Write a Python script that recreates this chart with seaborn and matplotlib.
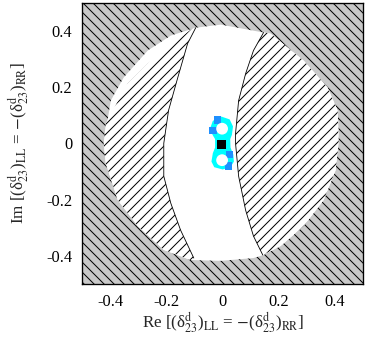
import numpy as np
import matplotlib
matplotlib.use('Agg')
import matplotlib.pyplot as plt
import seaborn as sns

# outer allowed region (white), going round clockwise
outer_x = [-0.096, -0.007, 0.146, 0.171, 0.289, 0.374, 0.41, 0.414, 0.403, 0.36,
           0.289, 0.207, 0.146, 0.11, -0.007, -0.114, -0.21, -0.303, -0.374,
           -0.417, -0.424, -0.399, -0.353, -0.267, -0.185]
outer_y = [0.411, 0.422, 0.394, 0.39, 0.294, 0.199, 0.117, 0.035, -0.096, -0.202,
           -0.294, -0.365, -0.397, -0.408, -0.418, -0.415, -0.379, -0.294, -0.202,
           -0.071, 0.0, 0.152, 0.234, 0.33, 0.383]

# left excluded crescent: inner arc (top to bottom), outer edge, upper edge
left_arc_x = [-0.096, -0.125, -0.16, -0.193, -0.21, -0.21, -0.185, -0.15, -0.103]
left_arc_y = [0.411, 0.355, 0.234, 0.117, 0.0, -0.117, -0.213, -0.309, -0.408]
left_out_x = [-0.114, -0.21, -0.303, -0.374, -0.417, -0.424, -0.417]
left_out_y = [-0.415, -0.379, -0.294, -0.202, -0.071, 0.0, 0.071]
left_top_x = [-0.392, -0.339, -0.267, -0.196, -0.114]
left_top_y = [0.117, 0.213, 0.284, 0.34, 0.404]

# right excluded region: inner arc (top to bottom), then outer edge back up
right_arc_x = [0.146, 0.11, 0.082, 0.057, 0.046, 0.046, 0.057, 0.082, 0.11, 0.143]
right_arc_y = [0.394, 0.33, 0.248, 0.152, 0.035, 0.0, -0.117, -0.238, -0.33, -0.397]
right_out_x = [0.207, 0.289, 0.36, 0.403, 0.414, 0.41, 0.374, 0.289, 0.171]
right_out_y = [-0.365, -0.294, -0.202, -0.096, 0.0, 0.117, 0.199, 0.294, 0.39]

# small allowed blob near the origin
blob_x = [-0.004, 0.025, 0.037, 0.033, 0.027, 0.028, 0.038, 0.04, 0.028, 0.0,
          -0.03, -0.04, -0.035, -0.027, -0.027, -0.036, -0.044, -0.035]
blob_y = [0.095, 0.085, 0.06, 0.03, 0.015, -0.015, -0.04, -0.065, -0.085, -0.093,
          -0.085, -0.065, -0.035, -0.015, 0.015, 0.03, 0.055, 0.08]
blue_x = [-0.034, -0.018, 0.024, 0.02]
blue_y = [0.045, 0.083, -0.04, -0.08]
hole_x = [-0.002, -0.002]
hole_y = [0.052, -0.06]
sm_x = [-0.004]
sm_y = [-0.003]

ticks = [-0.4, -0.2, 0, 0.2, 0.4]
tick_labels = ['-0.4', '-0.2', '0', '0.2', '0.4']

sns.set_theme(style='ticks')
plt.rcParams['font.family'] = ['Liberation Serif', 'DejaVu Serif']
plt.rcParams['mathtext.fontset'] = 'stix'
plt.rcParams['hatch.linewidth'] = 0.6
plt.rcParams['axes.unicode_minus'] = False

fig = plt.figure(figsize=(365 / 120, 338 / 120), dpi=120)
ax = fig.add_axes([0.226, 0.16, 0.768, 0.832])
ax.set_xlim(-0.5, 0.5)
ax.set_ylim(-0.5, 0.5)

gray = '#c8c8c8'
# gray hatched background (excluded everywhere outside)
ax.fill([-0.5, 0.5, 0.5, -0.5], [-0.5, -0.5, 0.5, 0.5], facecolor=gray,
        edgecolor='black', hatch='\\\\\\\\', linewidth=0, zorder=1)
ax.fill(outer_x, outer_y, facecolor='white', edgecolor='none', zorder=2)

lx = left_arc_x + left_out_x + left_top_x
ly = left_arc_y + left_out_y + left_top_y
ax.fill(lx, ly, facecolor='white', edgecolor='black', hatch='////',
        linewidth=0, zorder=3)
rx = right_arc_x + right_out_x
ry = right_arc_y + right_out_y
ax.fill(rx, ry, facecolor='white', edgecolor='black', hatch='////',
        linewidth=0, zorder=3)
ax.plot(left_arc_x, left_arc_y, color='black', lw=0.5, zorder=4)
ax.plot(right_arc_x, right_arc_y, color='black', lw=0.5, zorder=4)

ax.fill(blob_x, blob_y, facecolor='#00ffff', edgecolor='none', zorder=5)
sns.scatterplot(x=blue_x, y=blue_y, marker='s', s=20, color='#1e90ff',
                edgecolor='none', ax=ax, zorder=6)
sns.scatterplot(x=hole_x, y=hole_y, marker='o', s=50, color='white',
                edgecolor='none', ax=ax, zorder=7)
sns.scatterplot(x=sm_x, y=sm_y, marker='s', s=30, color='black',
                edgecolor='none', ax=ax, zorder=8)

ax.set_xticks(ticks)
ax.set_xticklabels(tick_labels)
ax.set_yticks(ticks)
ax.set_yticklabels(tick_labels)
ax.tick_params(direction='in', length=4, width=0.6, top=True, right=True,
               labelsize=9.8, colors='black', pad=6)
for s in ax.spines.values():
    s.set_linewidth(0.8)
    s.set_color('black')
    s.set_zorder(10)

ax.set_xlabel(r'Re [(δ$^{\rm d}_{23}$)$_{\rm LL}$ = $-$(δ$^{\rm d}_{23}$)$_{\rm RR}$]',
              fontsize=10.2, labelpad=0)
ax.set_ylabel(r'Im [(δ$^{\rm d}_{23}$)$_{\rm LL}$ = $-$(δ$^{\rm d}_{23}$)$_{\rm RR}$]',
              fontsize=10.2, labelpad=9)

fig.savefig('out.png', dpi=120)
